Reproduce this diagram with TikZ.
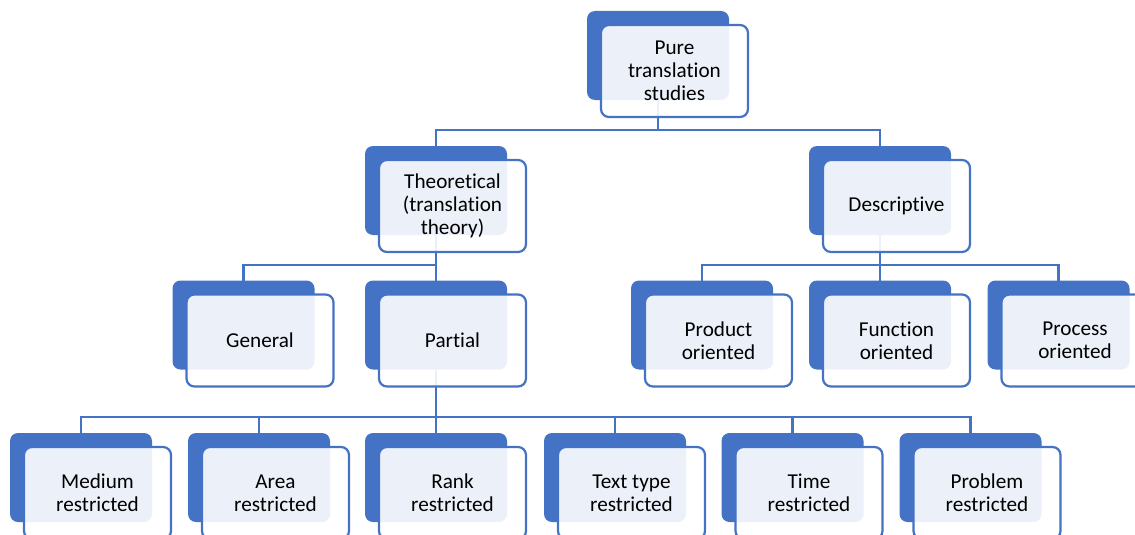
\documentclass[tikz,border=0pt]{standalone}
\usepackage{fontspec}
\setmainfont{Carlito}[Ligatures=NoCommon]
\usetikzlibrary{calc}
\definecolor{sablue}{HTML}{4472C4}
\begin{document}
\begin{tikzpicture}[x=1pt,y=-1pt,
  back/.style={rectangle,rounded corners=8pt,fill=sablue,draw=none,minimum width=142pt,minimum height=89pt,inner sep=0pt,outer sep=0pt},
  front/.style={rectangle,rounded corners=8pt,fill=white,fill opacity=0.9,text opacity=1,draw=sablue,draw opacity=1,line width=2.2pt,minimum width=147pt,minimum height=92pt,inner sep=0pt,outer sep=0pt,align=center,font=\fontsize{21.2}{23}\selectfont,text=black},
  conn/.style={draw=sablue,line width=2.3pt}]
\clip (0,0) rectangle (1135,535);
\useasboundingbox (0,0) rectangle (1135,535);
% back boxes
\node[back] (bPure) at (658,55.5) {};
\node[back] (bTheo) at (436,190.5) {};
\node[back] (bDesc) at (880,190.5) {};
\node[back] (bGen) at (243.5,325) {};
\node[back] (bPart) at (436,325) {};
\node[back] (bProd) at (702,325) {};
\node[back] (bFunc) at (880,325) {};
\node[back] (bProc) at (1058.5,325) {};
\node[back] (bMed) at (81,477.5) {};
\node[back] (bArea) at (259,477.5) {};
\node[back] (bRank) at (436,477.5) {};
\node[back] (bText) at (615,477.5) {};
\node[back] (bTime) at (792.5,477.5) {};
\node[back] (bProb) at (970.5,477.5) {};
% bus coordinates
\coordinate (busA) at (0,130);
\coordinate (busB) at (0,265);
\coordinate (busC) at (0,417);
% connectors (behind front boxes)
\draw[conn] (bPure.south) -- (bPure.south |- busA) -| (bTheo.north);
\draw[conn] (bPure.south |- busA) -| (bDesc.north);
\draw[conn] (bTheo.south) -- (bTheo.south |- busB) -| (bGen.north);
\draw[conn] (bTheo.south |- busB) -| (bPart.north);
\draw[conn] (bDesc.south) -- (bDesc.south |- busB) -| (bProd.north);
\draw[conn] (bDesc.south |- busB) -| (bProc.north);
\draw[conn] (bDesc.south |- busB) -- (bFunc.north);
\draw[conn] (bPart.south) -- (bPart.south |- busC) -| (bMed.north);
\draw[conn] (bPart.south |- busC) -| (bProb.north);
\draw[conn] (bPart.south |- busC) -- (bRank.north);
\draw[conn] (bArea.north |- busC) -- (bArea.north);
\draw[conn] (bText.north |- busC) -- (bText.north);
\draw[conn] (bTime.north |- busC) -- (bTime.north);
% front boxes
\node[front] (fPure) at ($(bPure)+(16.5,15.5)$) {Pure\\translation\\studies};
\node[front] (fTheo) at ($(bTheo)+(16.5,15.5)$) {Theoretical\\(translation\\theory)};
\node[front] (fDesc) at ($(bDesc)+(16.5,15.5)$) {Descriptive};
\node[front] (fGen) at ($(bGen)+(16.5,15.5)$) {General};
\node[front] (fPart) at ($(bPart)+(16.5,15.5)$) {Partial};
\node[front] (fProd) at ($(bProd)+(16.5,15.5)$) {Product\\oriented};
\node[front] (fFunc) at ($(bFunc)+(16.5,15.5)$) {Function\\oriented};
\node[front] (fProc) at ($(bProc)+(16.5,15.5)$) {Process\\oriented};
\node[front] (fMed) at ($(bMed)+(16.5,15.5)$) {Medium\\restricted};
\node[front] (fArea) at ($(bArea)+(16.5,15.5)$) {Area\\restricted};
\node[front] (fRank) at ($(bRank)+(16.5,15.5)$) {Rank\\restricted};
\node[front] (fText) at ($(bText)+(16.5,15.5)$) {Text type\\restricted};
\node[front] (fTime) at ($(bTime)+(16.5,15.5)$) {Time\\restricted};
\node[front] (fProb) at ($(bProb)+(16.5,15.5)$) {Problem\\restricted};
\end{tikzpicture}
\end{document}
